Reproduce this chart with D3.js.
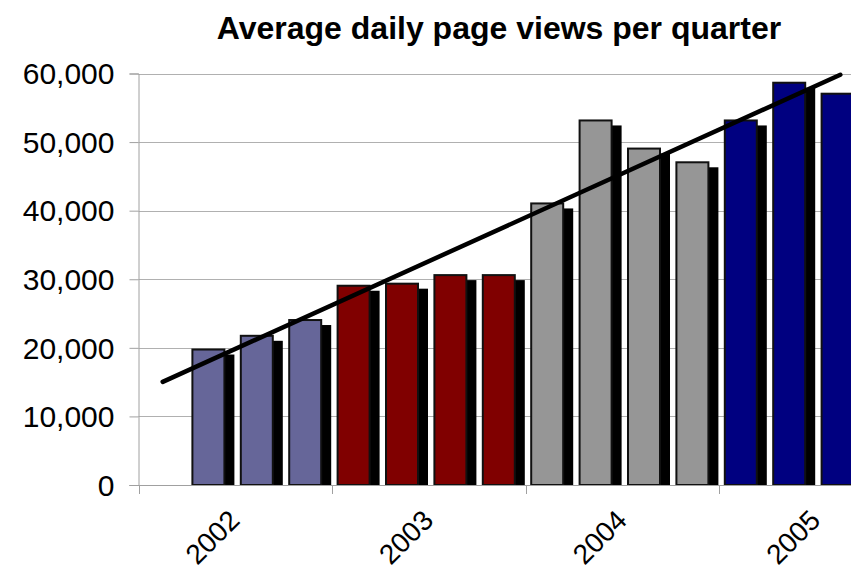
<!DOCTYPE html>
<html>
<head>
<meta charset="utf-8">
<script src="https://cdn.jsdelivr.net/npm/d3@7"></script>
<style>
  html, body { margin: 0; padding: 0; background: #fff; }
  svg { display: block; }
  text { font-family: "Liberation Sans", Arial, sans-serif; fill: #000; }
</style>
</head>
<body>
<svg id="chart" width="851" height="572"></svg>
<script>
// Average daily page views, one value per quarter (null = no data yet)
const years = ["2002", "2003", "2004", "2005"];
const quarters = ["Q1", "Q2", "Q3", "Q4"];
const views2002 = [null, 19900, 21900, 24200];
const views2003 = [29200, 29500, 30750, 30750];
const views2004 = [41200, 53300, 49200, 47200];
const views2005 = [53300, 58800, 57200, null];
const yearColors = ["#666699", "#800000", "#969696", "#000080"];
const yTicks = [0, 10000, 20000, 30000, 40000, 50000, 60000];

(function () {
  const seriesByYear = [views2002, views2003, views2004, views2005];
  const data = [];
  years.forEach((yr, yi) => {
    quarters.forEach((q, qi) => {
      data.push({ key: yr + "-" + q, year: yr, yi, idx: yi * 4 + qi + 1, value: seriesByYear[yi][qi] });
    });
  });
  const bars = data.filter(d => d.value != null);

  const svg = d3.select("#chart");
  const plotLeft = 138.5, plotBottom = 485, plotTop = 73.5;
  const step = 48.4;

  const x = d3.scaleBand()
    .domain(data.map(d => d.key))
    .range([plotLeft, plotLeft + step * data.length])
    .padding(0);
  const xYear = d3.scaleBand()
    .domain(years)
    .range([plotLeft, plotLeft + step * data.length])
    .padding(0);
  const y = d3.scaleLinear().domain([0, 60000]).range([plotBottom, plotTop]);

  // Title
  svg.append("text")
    .attr("x", 499).attr("y", 39)
    .attr("text-anchor", "middle")
    .style("font-weight", "bold")
    .style("font-size", "32px")
    .text("Average daily page views per quarter");

  // Horizontal gridlines
  svg.append("g").selectAll("line")
    .data(yTicks.filter(t => t > 0))
    .join("line")
    .attr("x1", plotLeft).attr("x2", 851)
    .attr("y1", d => Math.round(y(d)) + 0.5).attr("y2", d => Math.round(y(d)) + 0.5)
    .attr("stroke", "#b0b0b0").attr("stroke-width", 1);

  // Y axis
  const yAxis = svg.append("g")
    .attr("transform", `translate(${plotLeft},0)`)
    .call(d3.axisLeft(y).tickValues(yTicks).tickSize(9).tickPadding(15)
      .tickFormat(d3.format(",")));
  yAxis.select(".domain").attr("stroke", "#a0a0a0");
  yAxis.selectAll(".tick line").attr("stroke", "#a0a0a0");
  yAxis.selectAll(".tick text").style("font-size", "30px").attr("dy", "0.34em")
    .style("font-family", "'Liberation Sans', Arial, sans-serif");

  // Plot area clip so the trailing quarter is cut off at the frame edge
  svg.append("clipPath").attr("id", "plotClip")
    .append("rect").attr("x", plotLeft).attr("y", 0).attr("width", 851 - plotLeft).attr("height", plotBottom);

  const plot = svg.append("g").attr("clip-path", "url(#plotClip)");

  const barInset = 4.5, barWidth = 34, shadowDx = 9, shadowDy = 6;

  // Drop shadows
  plot.append("g").selectAll("rect")
    .data(bars)
    .join("rect")
    .attr("x", d => x(d.key) + barInset + shadowDx)
    .attr("y", d => y(d.value) + shadowDy)
    .attr("width", barWidth)
    .attr("height", d => plotBottom - y(d.value) - shadowDy)
    .attr("fill", "#000");

  // Bars
  plot.append("g").selectAll("rect")
    .data(bars)
    .join("rect")
    .attr("x", d => x(d.key) + barInset + 1)
    .attr("y", d => y(d.value) + 1)
    .attr("width", barWidth - 2)
    .attr("height", d => plotBottom - y(d.value) - 1)
    .attr("fill", d => yearColors[d.yi])
    .attr("stroke", "#111")
    .attr("stroke-width", 2);

  // X axis
  const xAxisG = svg.append("g");
  xAxisG.append("line")
    .attr("x1", plotLeft - 9).attr("x2", 851)
    .attr("y1", plotBottom + 0.5).attr("y2", plotBottom + 0.5)
    .attr("stroke", "#a0a0a0");
  xAxisG.selectAll("line.tick")
    .data(years)
    .join("line")
    .attr("class", "tick")
    .attr("x1", d => Math.round(xYear(d)) + 0.5).attr("x2", d => Math.round(xYear(d)) + 0.5)
    .attr("y1", plotBottom).attr("y2", plotBottom + 9)
    .attr("stroke", "#a0a0a0");
  xAxisG.selectAll("text")
    .data(years)
    .join("text")
    .attr("transform", d => `translate(${xYear(d) + xYear.bandwidth() / 2 + 6},${plotBottom + 37}) rotate(-45)`)
    .attr("text-anchor", "end")
    .style("font-size", "28px")
    .text(d => d);

  // Linear trend (least squares over quarter index)
  const mx = d3.mean(bars, d => d.idx), my = d3.mean(bars, d => d.value);
  const slope = d3.sum(bars, d => (d.idx - mx) * (d.value - my)) / d3.sum(bars, d => (d.idx - mx) ** 2);
  const intercept = my - slope * mx;
  const trendPts = [data[0], bars[bars.length - 1]].map(d => ({ key: d.key, v: intercept + slope * d.idx }));

  svg.append("path")
    .datum(trendPts)
    .attr("d", d3.line().x(d => x(d.key) + x.bandwidth() / 2).y(d => y(d.v)))
    .attr("fill", "none")
    .attr("stroke", "#000")
    .attr("stroke-width", 4.5)
    .attr("stroke-linecap", "round");
})();
</script>
</body>
</html>
